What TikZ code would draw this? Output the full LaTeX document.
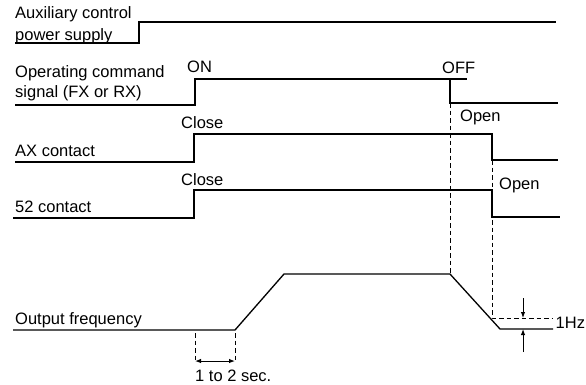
\documentclass[tikz,border=0pt]{standalone}
\usepackage{fontspec}
\setmainfont{Liberation Sans}
\usetikzlibrary{arrows.meta}
\tikzset{
  sig/.style={line width=1.3pt},
  guide/.style={line width=0.9pt,dashed,dash pattern=on 4.5pt off 3pt},
  lbl/.style={anchor=base west,inner sep=0pt},
  tip/.style={-{Latex[length=6pt,width=4.5pt]},line width=1pt}
}
\begin{document}
\begin{tikzpicture}[x=1pt,y=-1pt,font=\fontsize{16.5}{20}\selectfont]
  \useasboundingbox (0,0) rectangle (586,384);
  % row labels
  \node[lbl] (aux1) at (15,18) {Auxiliary control};
  \node[lbl] (aux2) at (15,40) {power supply};
  \node[lbl] (cmd1) at (15,77) {Operating command};
  \node[lbl] (cmd2) at (15,97) {signal (FX or RX)};
  \node[lbl] (ax) at (15,156) {AX contact};
  \node[lbl] (k52) at (15,212) {52 contact};
  \node[lbl] (fout) at (15,324) {Output frequency};
  % edge labels
  \node[lbl] (on) at (187,72) {ON};
  \node[lbl] (off) at (442,73) {OFF};
  \node[lbl] (axclose) at (181,128) {Close};
  \node[lbl] (axopen) at (460,121) {Open};
  \node[lbl] (kclose) at (181,185) {Close};
  \node[lbl] (kopen) at (499,189) {Open};
  \node[lbl] (sec) at (195,381) {1 to 2 sec.};
  \node[lbl] (hz) at (555.5,328) {1Hz};
  % time points
  \coordinate (A1) at (15,43); \coordinate (A2) at (139,43);
  \coordinate (A3) at (139,22); \coordinate (A4) at (556,22);
  \coordinate (C1) at (15,105); \coordinate (C2) at (195,105);
  \coordinate (C3) at (195,79); \coordinate (C4) at (467,79);
  \coordinate (C5) at (450,79); \coordinate (C6) at (450,103);
  \coordinate (C7) at (558,103);
  \coordinate (X1) at (15,162); \coordinate (X2) at (194,162);
  \coordinate (X3) at (194,134); \coordinate (X4) at (492,134);
  \coordinate (X5) at (492,160); \coordinate (X6) at (558,160);
  \coordinate (K1) at (13,218); \coordinate (K2) at (194,218);
  \coordinate (K3) at (194,190); \coordinate (K4) at (492,190);
  \coordinate (K5) at (492,217); \coordinate (K6) at (560,217);
  \coordinate (F1) at (13,330); \coordinate (F2) at (235,330);
  \coordinate (F3) at (284,274); \coordinate (F4) at (450,274);
  \coordinate (F5) at (500,329); \coordinate (F6) at (553,329);
  \coordinate (H1) at (492,318); \coordinate (H2) at (553,318);
  \draw[sig] (A1)--(A2)--(A3)--(A4);
  \draw[sig] (C1)--(C2)--(C3)--(C4) (C5)--(C6)--(C7);
  \draw[sig] (X1)--(X2)--(X3)--(X4)--(X5)--(X6);
  \draw[sig] (K1)--(K2)--(K3)--(K4)--(K5)--(K6);
  \draw[sig] (F1)--(F2)--(F3)--(F4)--(F5)--(F6);
  \draw[guide] (C6)--(F4);
  \draw[guide] (X5)--(H1)--(H2);
  % 1Hz marks
  \coordinate (U) at (523,298); \coordinate (D) at (523,352);
  \draw[tip] (U)--(U|-H2);
  \draw[tip] (D)--(D|-F6);
  % 1 to 2 sec.
  \coordinate (S1) at (195,333); \coordinate (S2) at (195,361);
  \coordinate (S3) at (235,333); \coordinate (S4) at (235,361);
  \draw[guide] (S1)--(S2) (S3)--(S4);
  \draw[{Latex[length=6pt,width=4.5pt]}-{Latex[length=6pt,width=4.5pt]},line width=1pt] (S2)--(S4);
\end{tikzpicture}
\end{document}
